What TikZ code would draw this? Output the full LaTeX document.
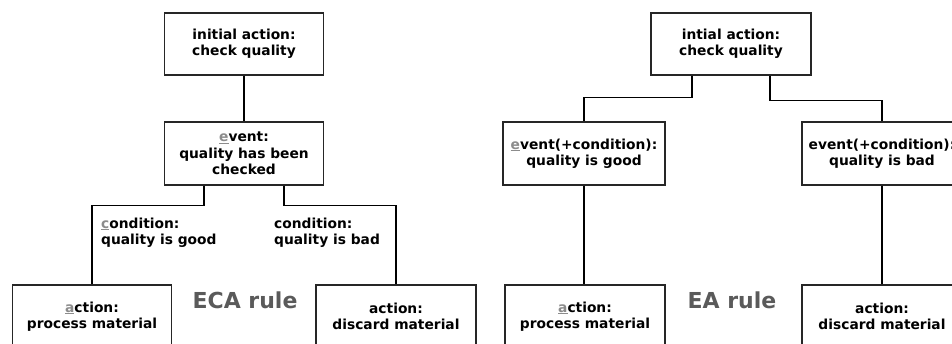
\documentclass[tikz,border=0pt]{standalone}
\usepackage{fontspec}
\setmainfont{DejaVu Sans}
\definecolor{lbl}{HTML}{5A5A5A}
\newcommand\hlet[1]{{\color{gray!90}\underline{#1}}}
\begin{document}
\begin{tikzpicture}[x=1pt,y=-1pt,
  box/.style={draw=black!85,line width=1.2pt,fill=white,minimum width=159pt,minimum height=62pt,inner sep=0pt,align=center,font=\fontsize{13.8}{16.5}\selectfont\bfseries},
  conn/.style={draw=black,line width=1.8pt},
  cond/.style={anchor=west,align=left,inner sep=0pt,font=\fontsize{13.8}{16.5}\selectfont\bfseries},
  rule/.style={text=lbl,inner sep=0pt,font=\fontsize{22}{26}\selectfont\bfseries}]
\useasboundingbox (0,0) rectangle (952,344);
% ---- left: ECA rule
\node[box] (top1) at (244,44) {initial action:\\check quality};
\node[box,minimum height=63pt] (ev1) at (244,153.5) {\hlet{e}vent:\\quality has been\\checked};
\node[box,minimum height=63pt] (act1a) at (92,316.5) {\hlet{a}ction:\\process material};
\node[box,minimum height=63pt,minimum width=160pt] (act1b) at (396,316.5) {action:\\discard material};
\node[cond] (c1) at (101,232.5) {\hlet{c}ondition:\\quality is good};
\node[cond] (c2) at (274,232.5) {condition:\\quality is bad};
\node[rule] (eca) at (245,300) {ECA rule};
\draw[conn] (top1.south) -- (ev1.north);
\draw[conn] ([xshift=-40pt]ev1.south) -- ++(0,20) -| (act1a.north);
\draw[conn] ([xshift=40pt]ev1.south) -- ++(0,20) -| (act1b.north);
% ---- right: EA rule
\node[box,minimum width=160pt] (top2) at (731,44) {intial action:\\check quality};
\node[box,minimum height=63pt,minimum width=162pt] (ev2a) at (584,153.5) {\hlet{e}vent(+condition):\\quality is good};
\node[box,minimum height=63pt,minimum width=160pt] (ev2b) at (882,153.5) {event(+condition):\\quality is bad};
\node[box,minimum height=63pt,minimum width=160pt] (act2a) at (585,316.5) {\hlet{a}ction:\\process material};
\node[box,minimum height=63pt,minimum width=160pt] (act2b) at (882,316.5) {action:\\discard material};
\node[rule] (ea) at (732,300) {EA rule};
\draw[conn] ([xshift=-39pt]top2.south) -- ++(0,22) -| (ev2a.north);
\draw[conn] ([xshift=39pt]top2.south) -- ++(0,25) -| (ev2b.north);
\draw[conn] (ev2a.south) -- (ev2a.south |- act2a.north);
\draw[conn] (ev2b.south) -- (ev2b.south |- act2b.north);
\end{tikzpicture}
\end{document}
